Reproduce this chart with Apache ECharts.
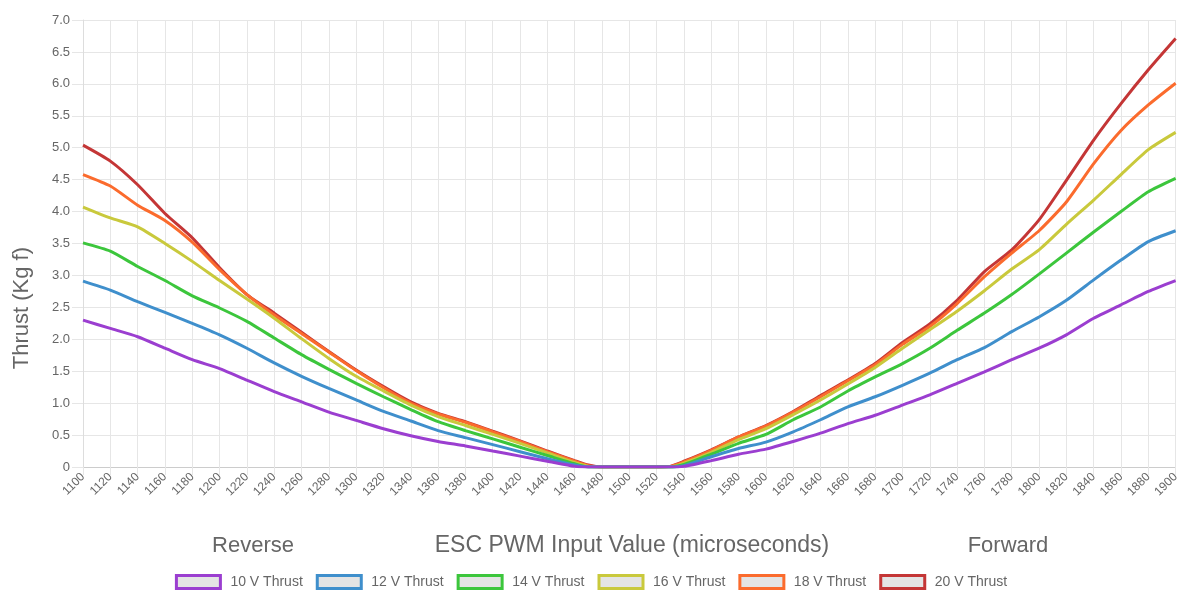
<!DOCTYPE html>
<html>
<head>
<meta charset="utf-8">
<script src="https://cdn.jsdelivr.net/npm/echarts@6/dist/echarts.min.js"></script>
<style>
  html, body { margin: 0; padding: 0; background: #fff; }
  #chart { width: 1182px; height: 593px; }
</style>
</head>
<body>
<div id="chart"></div>
<script>
// ESC PWM input (microseconds)
const pwm = [1100,1120,1140,1160,1180,1200,1220,1240,1260,1280,1300,1320,1340,1360,1380,1400,1420,1440,1460,1470,
             1480,1500,1520,1530,1540,1560,1580,1600,1620,1640,1660,1680,1700,1720,1740,1760,1780,1800,1820,1840,1860,1880,1900];

// Thrust (kgf) per supply voltage
const thrust10V = [2.30,2.17,2.04,1.86,1.68,1.54,1.36,1.18,1.02,0.86,0.73,0.60,0.49,0.40,0.33,0.25,0.17,0.09,0.01,0,
                   0,0,0,0,0.01,0.10,0.20,0.28,0.40,0.53,0.68,0.81,0.97,1.13,1.31,1.49,1.68,1.86,2.07,2.33,2.54,2.75,2.92];
const thrust12V = [2.91,2.77,2.59,2.42,2.25,2.07,1.86,1.63,1.42,1.23,1.05,0.87,0.72,0.57,0.46,0.35,0.24,0.13,0.03,0,
                   0,0,0,0,0.02,0.16,0.29,0.39,0.55,0.74,0.94,1.10,1.28,1.47,1.68,1.87,2.12,2.35,2.61,2.93,3.24,3.53,3.70];
const thrust14V = [3.51,3.38,3.14,2.92,2.68,2.49,2.28,2.02,1.76,1.53,1.31,1.10,0.90,0.71,0.57,0.44,0.31,0.18,0.05,0,
                   0,0,0,0,0.04,0.20,0.37,0.51,0.74,0.94,1.19,1.41,1.62,1.86,2.14,2.41,2.70,3.02,3.35,3.68,4.00,4.31,4.52];
const thrust16V = [4.07,3.90,3.76,3.50,3.22,2.92,2.63,2.33,2.01,1.70,1.42,1.19,0.97,0.79,0.65,0.51,0.37,0.22,0.07,0.01,
                   0,0,0,0,0.06,0.23,0.43,0.60,0.82,1.05,1.30,1.56,1.86,2.15,2.44,2.76,3.10,3.40,3.80,4.18,4.58,4.97,5.24];
const thrust18V = [4.58,4.40,4.10,3.86,3.52,3.09,2.70,2.38,2.09,1.80,1.51,1.24,1.00,0.83,0.70,0.55,0.40,0.24,0.09,0.02,
                   0,0,0,0.01,0.08,0.26,0.47,0.64,0.86,1.10,1.35,1.60,1.92,2.20,2.56,2.98,3.35,3.70,4.15,4.75,5.27,5.67,6.01];
const thrust20V = [5.04,4.79,4.42,3.97,3.59,3.12,2.70,2.41,2.11,1.81,1.52,1.26,1.02,0.84,0.71,0.56,0.41,0.25,0.10,0.03,
                   0,0,0,0.01,0.09,0.27,0.47,0.65,0.87,1.12,1.36,1.62,1.95,2.24,2.61,3.06,3.40,3.87,4.49,5.12,5.69,6.22,6.71];

const seriesNames = ['10 V Thrust','12 V Thrust','14 V Thrust','16 V Thrust','18 V Thrust','20 V Thrust'];
const seriesValues = [thrust10V, thrust12V, thrust14V, thrust16V, thrust18V, thrust20V];
const seriesColors = ['#9b3ed0','#3f8fcc','#3cc63c','#c9c93c','#fb6b2d','#c43636'];

const textColor = '#666';
const fontFamily = '"Liberation Sans", Arial, Helvetica, sans-serif';

const chart = echarts.init(document.getElementById('chart'), null, { renderer: 'canvas' });

const series = seriesNames.map((name, i) => ({
  name,
  type: 'line',
  data: pwm.map((p, k) => [p, seriesValues[i][k]]),
  showSymbol: false,
  smooth: 0.2,
  z: 10 - i,            // lower voltage drawn on top
  lineStyle: { width: 3, color: seriesColors[i] },
  itemStyle: { color: seriesColors[i] },
  emphasis: { disabled: true }
}));

chart.setOption({
  animation: false,
  textStyle: { fontFamily },
  grid: { left: 83, right: 3, top: 20, bottom: 126 },
  xAxis: {
    type: 'value',
    min: 1100, max: 1900, interval: 20,
    axisLine: { show: true, lineStyle: { color: '#ccc', width: 1 } },
    axisTick: { show: true, length: 8, lineStyle: { color: '#e6e6e6' } },
    axisLabel: { rotate: 45, color: textColor, fontSize: 12, margin: 8, fontFamily, formatter: v => String(v) },
    splitLine: { show: true, lineStyle: { color: '#e6e6e6', width: 1 } }
  },
  yAxis: {
    type: 'value',
    min: 0, max: 7, interval: 0.5,
    axisLine: { show: true, lineStyle: { color: '#ddd', width: 1 } },
    axisTick: { show: true, length: 11, lineStyle: { color: '#e6e6e6' } },
    axisLabel: {
      color: textColor, fontSize: 13, margin: 13, fontFamily,
      formatter: v => (v === 0 ? '0' : v.toFixed(1))
    },
    splitLine: { show: true, lineStyle: { color: '#e6e6e6', width: 1 } }
  },
  legend: {
    bottom: 3,
    left: 'center',
    padding: 0,
    icon: 'rect',
    itemWidth: 44,
    itemHeight: 13,
    itemGap: 13,
    textStyle: { color: textColor, fontSize: 14, fontFamily, padding: [0, 0, 0, 5] },
    itemStyle: { color: '#e4e4e4', borderWidth: 3 },
    data: seriesNames.map((n, i) => ({ name: n, itemStyle: { color: '#e4e4e4', borderColor: seriesColors[i], borderWidth: 3 } }))
  },
  graphic: [
    { type: 'text', left: 11, top: 247, rotation: Math.PI / 2, originX: 0, originY: 0,
      style: { text: 'Thrust (Kg f)', fill: textColor, font: '22px ' + fontFamily, textAlign: 'center', textVerticalAlign: 'middle' } },
    { type: 'text', x: 253, y: 546,
      style: { text: 'Reverse', fill: textColor, font: '22px ' + fontFamily, textAlign: 'center', textVerticalAlign: 'middle' } },
    { type: 'text', x: 632, y: 546,
      style: { text: 'ESC PWM Input Value (microseconds)', fill: textColor, font: '23px ' + fontFamily, textAlign: 'center', textVerticalAlign: 'middle' } },
    { type: 'text', x: 1008, y: 546,
      style: { text: 'Forward', fill: textColor, font: '22px ' + fontFamily, textAlign: 'center', textVerticalAlign: 'middle' } }
  ],
  series
});
</script>
</body>
</html>
